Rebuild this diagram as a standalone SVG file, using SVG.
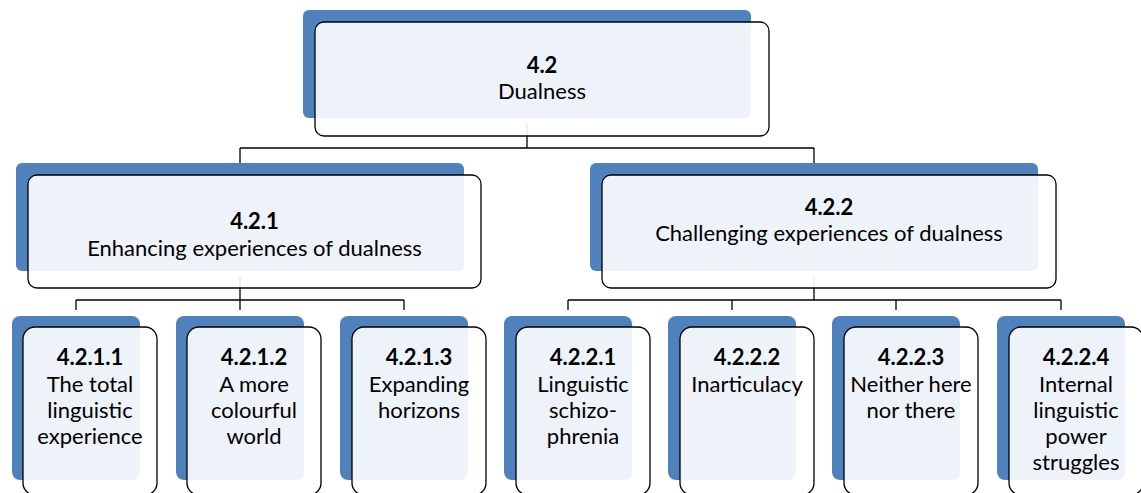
<svg xmlns="http://www.w3.org/2000/svg" width="1141" height="493" viewBox="0 0 1141 493">
  <style>
    .back { fill: #4F81BD; }
    .front { fill: #FFFFFF; fill-opacity: 0.9; stroke: #000000; stroke-width: 1.3; }
    .link { fill: none; stroke: #000000; stroke-width: 1.3; }
    text { font-family: "Lato", "Liberation Sans", sans-serif; font-size: 22px; fill: #000000; text-anchor: middle; }
    .num { font-weight: bold; }
  </style>
  <rect width="1141" height="493" fill="#FFFFFF"/>

  <!-- tree connectors, drawn beneath the boxes -->
  <g id="connectors">
    <path class="link" d="M527 124 V148 M240 148 H814 M240 148 V175 M814 148 V175"/>
    <path class="link" d="M240 277 V300 M76 300 H404 M76 300 V310 M240 300 V310 M404 300 V310"/>
    <path class="link" d="M814 277 V300 M568 300 H1061 M568 300 V310 M732 300 V310 M896 300 V310 M1061 300 V310"/>
  </g>

  <g id="n-4-2">
    <rect class="back" x="303" y="10" width="448" height="108" rx="6"/>
    <rect class="front" x="315" y="22" width="454" height="114" rx="9"/>
    <text x="542" y="73" class="num">4.2</text>
    <text x="542" y="99">Dualness</text>
  </g>

  <g id="n-4-2-1">
    <rect class="back" x="16" y="163" width="448" height="108" rx="6"/>
    <rect class="front" x="28" y="175" width="453" height="113" rx="9"/>
    <text x="254.5" y="229" class="num">4.2.1</text>
    <text x="254.5" y="256">Enhancing experiences of dualness</text>
  </g>

  <g id="n-4-2-2">
    <rect class="back" x="590" y="163" width="448" height="108" rx="6"/>
    <rect class="front" x="602" y="175" width="454" height="113" rx="9"/>
    <text x="829" y="215" class="num">4.2.2</text>
    <text x="829" y="241">Challenging experiences of dualness</text>
  </g>

  <g id="n-4-2-1-1">
    <rect class="back" x="12" y="316" width="128" height="164" rx="8"/>
    <rect class="front" x="23" y="327" width="134" height="168" rx="12"/>
    <text x="90" y="365" class="num">4.2.1.1</text>
    <text x="90" y="392">The total</text>
    <text x="90" y="418">linguistic</text>
    <text x="90" y="444">experience</text>
  </g>

  <g id="n-4-2-1-2">
    <rect class="back" x="176" y="316" width="128" height="164" rx="8"/>
    <rect class="front" x="187" y="327" width="134" height="168" rx="12"/>
    <text x="254" y="365" class="num">4.2.1.2</text>
    <text x="254" y="392">A more</text>
    <text x="254" y="418">colourful</text>
    <text x="254" y="444">world</text>
  </g>

  <g id="n-4-2-1-3">
    <rect class="back" x="340" y="316" width="128" height="164" rx="8"/>
    <rect class="front" x="352" y="327" width="134" height="168" rx="12"/>
    <text x="419" y="365" class="num">4.2.1.3</text>
    <text x="419" y="392">Expanding</text>
    <text x="419" y="418">horizons</text>
  </g>

  <g id="n-4-2-2-1">
    <rect class="back" x="504" y="316" width="128" height="164" rx="8"/>
    <rect class="front" x="516" y="327" width="134" height="168" rx="12"/>
    <text x="583" y="365" class="num">4.2.2.1</text>
    <text x="583" y="392">Linguistic</text>
    <text x="583" y="418">schizo-</text>
    <text x="583" y="444">phrenia</text>
  </g>

  <g id="n-4-2-2-2">
    <rect class="back" x="668" y="316" width="128" height="164" rx="8"/>
    <rect class="front" x="680" y="327" width="134" height="168" rx="12"/>
    <text x="747" y="365" class="num">4.2.2.2</text>
    <text x="747" y="392">Inarticulacy</text>
  </g>

  <g id="n-4-2-2-3">
    <rect class="back" x="832" y="316" width="128" height="164" rx="8"/>
    <rect class="front" x="844" y="327" width="134" height="168" rx="12"/>
    <text x="911" y="365" class="num">4.2.2.3</text>
    <text x="911" y="392">Neither here</text>
    <text x="911" y="418">nor there</text>
  </g>

  <g id="n-4-2-2-4">
    <rect class="back" x="997" y="316" width="128" height="164" rx="8"/>
    <rect class="front" x="1009" y="327" width="134" height="168" rx="12"/>
    <text x="1076" y="365" class="num">4.2.2.4</text>
    <text x="1076" y="392">Internal</text>
    <text x="1076" y="418">linguistic</text>
    <text x="1076" y="444">power</text>
    <text x="1076" y="470">struggles</text>
  </g>
</svg>
